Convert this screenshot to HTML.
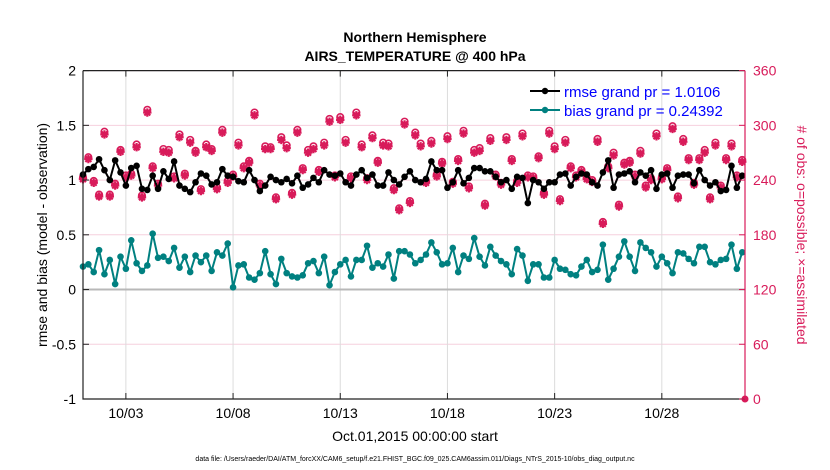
<!DOCTYPE html>
<html><head><meta charset="utf-8"><style>
html,body{margin:0;padding:0;background:#fff;}
svg{display:block;font-family:"Liberation Sans",sans-serif;}
</style></head><body>
<svg id="chart" width="830" height="470" viewBox="0 0 830 470" xmlns="http://www.w3.org/2000/svg">
<text x="415" y="42" text-anchor="middle" font-size="14" font-weight="bold">Northern Hemisphere</text>
<text x="415" y="61" text-anchor="middle" font-size="14" font-weight="bold">AIRS_TEMPERATURE @ 400 hPa</text>
<g id="grid"></g>
<g id="series"></g>
<g id="axes"></g>
<text transform="translate(47,235) rotate(-90)" text-anchor="middle" font-size="14">rmse and bias (model - observation)</text>
<text transform="translate(797,235) rotate(90)" text-anchor="middle" font-size="14" fill="#d81b5a"># of obs: o=possible; ×=assimilated</text>
<text x="415" y="441" text-anchor="middle" font-size="14">Oct.01,2015 00:00:00 start</text>
<text x="415" y="461" text-anchor="middle" font-size="7">data file: /Users/raeder/DAI/ATM_forcXX/CAM6_setup/f.e21.FHIST_BGC.f09_025.CAM6assim.011/Diags_NTrS_2015-10/obs_diag_output.nc</text>
<g>
<line x1="530" y1="91" x2="560" y2="91" stroke="#000" stroke-width="2"/>
<circle cx="545" cy="91" r="3.2" fill="#000"/>
<text x="564" y="97" font-size="15" fill="#0000ff">rmse grand pr = 1.0106</text>
<line x1="530" y1="110" x2="560" y2="110" stroke="#008080" stroke-width="2"/>
<circle cx="545" cy="110" r="3.2" fill="#008080"/>
<text x="564" y="116" font-size="15" fill="#0000ff">bias grand pr = 0.24392</text>
</g>
</svg>
<script>
const rmse=[1.05,1.10,1.12,1.19,1.09,1.00,1.18,1.07,0.95,1.11,1.13,0.92,0.91,1.04,0.92,1.08,1.01,1.17,0.95,0.92,0.89,0.98,1.06,1.04,0.96,0.98,1.10,1.04,1.03,0.99,0.98,1.09,
1.00,0.90,0.95,1.03,1.00,0.98,1.01,0.97,1.04,0.93,0.96,1.02,0.98,1.09,1.05,1.04,1.06,0.98,0.95,1.05,1.09,1.02,1.05,0.95,0.95,1.07,1.00,0.96,1.03,1.08,1.00,
0.98,1.01,1.17,1.09,1.09,0.93,0.98,1.09,0.97,1.02,1.11,1.11,1.08,1.08,1.03,0.98,1.00,0.92,1.03,1.02,0.79,1.00,0.98,0.92,0.98,0.98,1.05,1.06,0.95,1.03,1.06,
1.05,0.98,0.95,1.07,1.18,0.93,1.05,1.06,1.08,0.98,1.07,1.04,1.09,0.92,1.05,1.06,0.93,1.04,1.05,1.05,0.97,1.09,1.00,0.95,0.98,0.90,0.91,1.13,0.93,1.04];
const bias=[0.21,0.23,0.16,0.36,0.14,0.27,0.05,0.30,0.19,0.45,0.24,0.17,0.22,0.51,0.29,0.30,0.26,0.38,0.20,0.30,0.16,0.31,0.25,0.31,0.17,0.34,0.31,0.42,0.02,0.22,0.23,0.11,
0.09,0.15,0.35,0.14,0.05,0.28,0.15,0.12,0.11,0.13,0.24,0.26,0.15,0.30,0.04,0.16,0.23,0.27,0.12,0.27,0.27,0.40,0.20,0.24,0.21,0.32,0.10,0.35,0.35,0.32,0.24,0.27,
0.32,0.43,0.34,0.23,0.24,0.38,0.16,0.31,0.28,0.47,0.30,0.22,0.39,0.31,0.26,0.23,0.14,0.37,0.31,0.08,0.23,0.23,0.11,0.11,0.27,0.19,0.18,0.14,0.13,0.21,0.27,0.16,0.18,0.41,0.09,0.19,0.30,0.44,0.30,0.17,0.43,0.38,0.34,0.21,0.30,0.24,0.15,0.34,0.33,0.28,0.24,0.39,0.39,0.25,0.23,0.27,0.28,0.41,0.19,0.34];
const nAssim=[241,263,237,222,290,222,234,271,243,245,276,221,314,253,234,271,270,242,287,245,281,270,228,276,272,230,292,237,244,278,253,259,
311,234,274,274,219,284,275,224,292,251,270,274,249,278,304,243,306,281,242,311,276,240,286,259,278,277,229,207,301,215,289,
277,237,280,244,258,285,236,261,291,231,270,272,212,283,244,235,284,261,237,288,243,242,264,224,291,274,217,281,253,243,249,
241,238,282,192,253,267,211,257,259,244,269,232,240,288,241,251,296,220,282,262,235,262,270,219,278,232,262,277,243,260];
const nPossible=[243,265,239,224,293,224,236,273,245,247,279,223,317,255,236,274,273,244,290,247,284,272,230,279,274,232,295,239,246,281,255,261,
314,236,277,276,221,287,278,226,295,253,273,277,251,281,307,245,309,284,244,314,279,242,289,261,281,280,231,209,304,217,292,
280,239,283,246,260,288,238,263,294,233,273,275,214,286,246,237,287,263,239,291,245,244,266,226,294,277,219,284,255,245,251,
243,240,285,194,255,270,213,259,261,246,272,234,242,291,243,253,299,222,285,264,237,264,273,221,281,234,264,280,245,262];
const xTickLabels=["10/03","10/08","10/13","10/18","10/23","10/28"];
const xTickDays=[2,7,12,17,22,27];
const yLeftTicks=[-1,-0.5,0,0.5,1,1.5,2];
const yRightTicks=[0,60,120,180,240,300,360];

const NS="http://www.w3.org/2000/svg";
const X0=83,X1=745,Y0=70.6,Y1=399,DAYS=30.88;
const xS=d=>X0+(d/DAYS)*(X1-X0);
const yL=v=>Y1-(v+1)/3*(Y1-Y0);
const yR=v=>Y1-v/360*(Y1-Y0);
const dayOf=i=>i*0.25;
const RED="#d81b5a";
function mk(tag,attrs,parent){const e=document.createElementNS(NS,tag);for(const k in attrs)e.setAttribute(k,attrs[k]);parent.appendChild(e);return e;}
const grid=document.getElementById('grid'),ser=document.getElementById('series'),ax=document.getElementById('axes');

yRightTicks.forEach(t=>{const g=mk('line',{x1:X0,x2:X1,y1:yR(t),y2:yR(t),stroke:'#f6d0de','stroke-width':1},grid);

});
xTickDays.forEach(d=>{const g=mk('line',{x1:xS(d),x2:xS(d),y1:Y0,y2:Y1,stroke:'#dcdcdc','stroke-width':1},grid);

});
const zl=mk('line',{x1:X0,x2:X1,y1:yL(0),y2:yL(0),stroke:'#b8b8b8','stroke-width':2},grid);



// obs counts
nPossible.forEach((v,i)=>{const c=mk('circle',{cx:xS(dayOf(i)),cy:yR(v),r:3.3,fill:'none',stroke:RED,'stroke-width':1.6},ser);

});
nAssim.forEach((v,i)=>{const x=xS(dayOf(i)),y=yR(v),r=4.2;
const p=mk('path',{d:`M${x-r} ${y}H${x+r}M${x} ${y-r}V${y+r}M${x-r*0.7} ${y-r*0.7}L${x+r*0.7} ${y+r*0.7}M${x-r*0.7} ${y+r*0.7}L${x+r*0.7} ${y-r*0.7}`,stroke:RED,'stroke-width':2.2,fill:'none'},ser);

});

function line(vals,color,name){
 const d=vals.map((v,i)=>(i?'L':'M')+xS(dayOf(i)).toFixed(1)+' '+yL(v).toFixed(1)).join('');
 const p=mk('path',{d:d,stroke:color,'stroke-width':2,fill:'none'},ser);
 
 
 vals.forEach((v,i)=>{const c=mk('circle',{cx:xS(dayOf(i)),cy:yL(v),r:3.3,fill:color},ser);
 
 });
}
line(bias,'#008080','bias');
line(rmse,'#000000','rmse');

const endDot=mk('circle',{cx:X1,cy:Y1,r:3.5,fill:RED},ser);



// axes
const frame=mk('path',{d:`M${X0} ${Y0}V${Y1}H${X1}M${X0} ${Y0}H${X1}`,stroke:'#222','stroke-width':1.2,fill:'none'},ax);


const rax=mk('line',{x1:X1,x2:X1,y1:Y0,y2:Y1,stroke:RED,'stroke-width':1.2},ax);


yLeftTicks.forEach(t=>{const y=yL(t);
 const tk=mk('line',{x1:X0,x2:X0+6,y1:y,y2:y,stroke:'#222'},ax);
 
 
 const tx=mk('text',{x:X0-7,y:y+5,'text-anchor':'end','font-size':14},ax);
 tx.textContent=String(t);
 
 });
yRightTicks.forEach(t=>{const y=yR(t);
 const tk=mk('line',{x1:X1-6,x2:X1,y1:y,y2:y,stroke:RED},ax);
 
 
 const tx=mk('text',{x:X1+8,y:y+5,'font-size':14,fill:RED},ax);
 tx.textContent=String(t);
 
 });
xTickDays.forEach((d,i)=>{const x=xS(d);
 const tk=mk('line',{x1:x,x2:x,y1:Y1-6,y2:Y1,stroke:'#222'},ax);
 
 
 const t2=mk('line',{x1:x,x2:x,y1:Y0,y2:Y0+6,stroke:'#222'},ax);
 
 
 const tx=mk('text',{x:x,y:Y1+19,'text-anchor':'middle','font-size':14},ax);
 tx.textContent=xTickLabels[i];
 
 });
</script>
</body></html>
